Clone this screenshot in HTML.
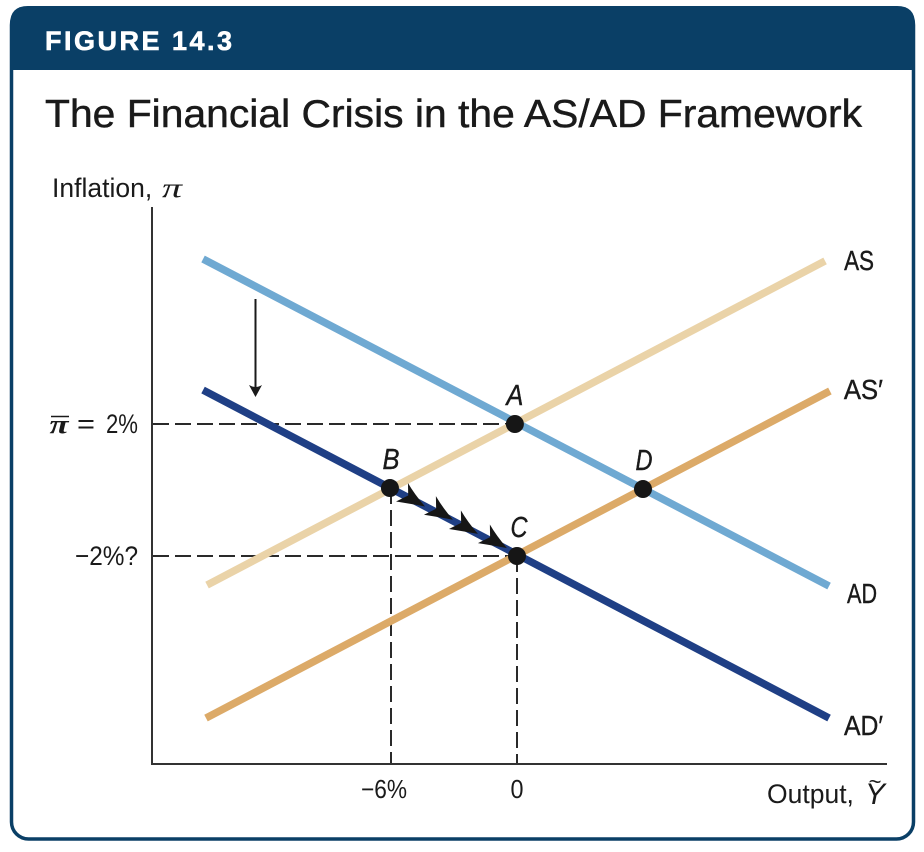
<!DOCTYPE html>
<html lang="en">
<head>
<meta charset="utf-8">
<title>The Financial Crisis in the AS/AD Framework</title>
<style>
html,body{margin:0;padding:0;background:#fff;}
svg{display:block;font-family:"Liberation Sans",sans-serif;}
</style>
</head>
<body>
<svg id="chart" width="924" height="852" viewBox="0 0 924 852" xmlns="http://www.w3.org/2000/svg">
  <rect x="11.5" y="8" width="902" height="831" rx="17" fill="#fff" stroke="#0a3f66" stroke-width="3.5"/>
  <path d="M10 70V24Q10 6 28 6H897Q915 6 915 24V70Z" fill="#0a3f66"/>
  <text x="45" y="50" font-size="27" font-weight="700" fill="#fff" stroke="#fff" stroke-width="0.6" textLength="187" lengthAdjust="spacing">FIGURE 14.3</text>
  <text x="45" y="127" font-size="39" fill="#1a1a1a" stroke="#1a1a1a" stroke-width="0.45" textLength="817" lengthAdjust="spacingAndGlyphs">The Financial Crisis in the AS/AD Framework</text>
  <text x="52" y="197" font-size="26.5" fill="#1a1a1a">Inflation,</text>
  <text x="162" y="197" font-size="27" font-family="'Liberation Serif',serif" font-style="italic" fill="#1a1a1a" textLength="20" lengthAdjust="spacingAndGlyphs">π</text>
  <g id="guides"></g>
  <g id="curves"></g>
  <line x1="152" y1="207" x2="152" y2="765" stroke="#333" stroke-width="2"/>
  <line x1="151" y1="764" x2="887" y2="764" stroke="#333" stroke-width="2"/>
  <g>
    <line x1="255.500" y1="299" x2="255.500" y2="390" stroke="#1a1a1a" stroke-width="2"/>
    <path d="M255.500 397L249 385Q255.500 389 262 385Z" fill="#1a1a1a"/>
  </g>
  <g id="arrows"></g>
  <g id="points"></g>
  <g id="ticks"></g>
  <text x="767" y="803" font-size="26.5" fill="#1a1a1a">Output,</text>
  <text x="865" y="804" font-size="30" font-style="italic" fill="#1a1a1a" textLength="20" lengthAdjust="spacingAndGlyphs">Y</text>
  <text x="875" y="789" font-size="22" text-anchor="middle" fill="#1a1a1a">~</text>
</svg>
<script>
const curveNames = ['AS', "AS′", 'AD', "AD′"];
const curveX0 = [-14.76, -14.81, -14.95, -14.95];
const curveY0 = [-2.88, -6.91, 7.0, 3.03];
const curveX1 = [14.67, 14.9, 14.86, 14.86];
const curveY1 = [6.94, 3.0, -2.91, -6.91];
const curveColors = ['#ead3a8', '#dcaa68', '#6fa9d2', '#1f3f85'];
const curveSlugs = ['as', 'as-prime', 'ad', 'ad-prime'];

const pointNames = ['A', 'B', 'C', 'D'];
const pointX = [-0.1, -6.05, 0, 6];
const pointY = [2.0, 0.06, -2, 0.03];

const arrowX = [-4.38, -3.05, -1.86, -0.48];
const arrowY = [-0.5, -0.9, -1.33, -1.76];

const xTickValues = [-6, 0];
const xTickLabels = ['−6%', '0'];
const yTickValues = [2, -2];
const yTickLabels = ['2%', '−2%?'];

const NS = 'http://www.w3.org/2000/svg';
function xScale(v) { return 517 + 21 * v; }
function yScale(v) { return 490 - 33 * v; }
function make(tag, parent, attrs) {
  const el = document.createElementNS(NS, tag);
  for (const k in attrs) el.setAttribute(k, attrs[k]);
  parent.appendChild(el);
  return el;
}

const guides = document.getElementById('guides');
const curves = document.getElementById('curves');
const arrows = document.getElementById('arrows');
const points = document.getElementById('points');
const ticks = document.getElementById('ticks');

// Dashed guide lines
const dash = { stroke: '#2a2a2a', 'stroke-width': 2, 'stroke-dasharray': '16 6', fill: 'none' };
yTickValues.forEach(function (v, i) {
  const end = i === 0 ? pointX[0] : pointX[2];
  const ln = make('line', guides, Object.assign({ x1: 153, y1: yScale(v), x2: xScale(end), y2: yScale(v) }, dash));
  
  
});
xTickValues.forEach(function (v, i) {
  const top = i === 0 ? pointY[1] : pointY[2];
  const ln = make('line', guides, Object.assign({ x1: xScale(v), y1: yScale(top), x2: xScale(v), y2: 763 }, dash));
  
  
});

// Curves and their end labels
const labelDX = [19, 14, 18, 15];
const labelDY = [9, 8, 17, 17];
curveNames.forEach(function (name, i) {
  const ln = make('line', curves, { x1: xScale(curveX0[i]), y1: yScale(curveY0[i]), x2: xScale(curveX1[i]), y2: yScale(curveY1[i]), stroke: curveColors[i], 'stroke-width': 7.5 });
  
  
  const t = make('text', curves, { x: xScale(curveX1[i]) + labelDX[i], y: yScale(curveY1[i]) + labelDY[i], 'font-size': 28, fill: '#1a1a1a', stroke: '#1a1a1a', 'stroke-width': 0.4, textLength: name.length > 2 ? 39 : 30, lengthAdjust: 'spacingAndGlyphs' });
  t.textContent = name;
  
  
});

// Adjustment arrowheads along the path from B to C
arrowX.forEach(function (v, i) {
  const a = make('path', arrows, { d: 'M0 0Q-15 -6 -26 -13L-20 -2L-28 9Q-13 4 0 0Z', fill: '#161616', transform: 'translate(' + xScale(v) + ' ' + yScale(arrowY[i]) + ') rotate(27.5)' });
  
  
});

// Equilibrium points
const labelOffX = [0, 1, 2, 1];
pointNames.forEach(function (name, i) {
  const c = make('circle', points, { cx: xScale(pointX[i]), cy: yScale(pointY[i]), r: 9, fill: '#161616' });
  
  
  const t = make('text', points, { x: xScale(pointX[i]) + labelOffX[i], y: yScale(pointY[i]) - 19, 'font-size': 29, 'font-style': 'italic', 'text-anchor': 'middle', fill: '#1a1a1a', stroke: '#1a1a1a', 'stroke-width': 0.4, textLength: 17, lengthAdjust: 'spacingAndGlyphs' });
  t.textContent = name;
  
  
});

// Tick labels
xTickValues.forEach(function (v, i) {
  const t = make('text', ticks, { x: xScale(v) - (v < 0 ? 7 : 0), y: 798, 'font-size': 26, 'text-anchor': 'middle', fill: '#1a1a1a', textLength: v < 0 ? 46 : 13, lengthAdjust: 'spacingAndGlyphs' });
  t.textContent = xTickLabels[i];
  
  
});
yTickValues.forEach(function (v, i) {
  const t = make('text', ticks, { x: 138, y: yScale(v) + 9, 'font-size': 27, 'text-anchor': 'end', fill: '#1a1a1a', textLength: i === 0 ? 32 : 63, lengthAdjust: 'spacingAndGlyphs' });
  t.textContent = yTickLabels[i];
  
  
});
const eqSign = make('text', ticks, { x: 86, y: yScale(yTickValues[0]) + 9, 'font-size': 27, 'text-anchor': 'middle', fill: '#1a1a1a', textLength: 18, lengthAdjust: 'spacingAndGlyphs' });
eqSign.textContent = '=';


const piBar = make('text', ticks, { x: 59, y: yScale(yTickValues[0]) + 9, 'font-size': 26, 'font-family': "'Liberation Serif',serif", 'font-style': 'italic', 'font-weight': 700, 'text-anchor': 'middle', fill: '#1a1a1a', textLength: 19, lengthAdjust: 'spacingAndGlyphs' });
piBar.textContent = 'π';


const overbar = make('line', ticks, { x1: 51, x2: 69, y1: yScale(yTickValues[0]) - 7.5, y2: yScale(yTickValues[0]) - 7.5, stroke: '#1a1a1a', 'stroke-width': 1.5 });


</script>
</body>
</html>
